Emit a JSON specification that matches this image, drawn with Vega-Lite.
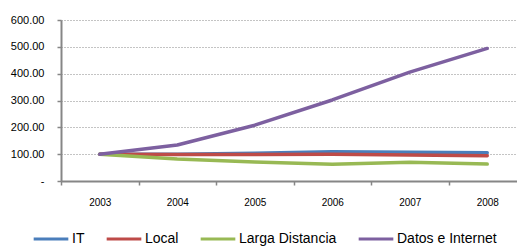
{
  "$schema": "https://vega.github.io/schema/vega-lite/v6.json",
  "autosize": "none",
  "padding": {"left": 61, "top": 20, "right": 0, "bottom": 71},
  "width": 465,
  "height": 161,
  "background": "white",
  "config": {"view": {"stroke": null}, "font": "Liberation Sans"},
  "data": {"values": [
    {"year": "2003", "serie": "IT", "v": 100},
    {"year": "2004", "serie": "IT", "v": 100},
    {"year": "2005", "serie": "IT", "v": 103},
    {"year": "2006", "serie": "IT", "v": 109},
    {"year": "2007", "serie": "IT", "v": 107},
    {"year": "2008", "serie": "IT", "v": 105},
    {"year": "2003", "serie": "Local", "v": 100},
    {"year": "2004", "serie": "Local", "v": 99},
    {"year": "2005", "serie": "Local", "v": 99},
    {"year": "2006", "serie": "Local", "v": 100},
    {"year": "2007", "serie": "Local", "v": 97},
    {"year": "2008", "serie": "Local", "v": 94},
    {"year": "2003", "serie": "Larga Distancia", "v": 100},
    {"year": "2004", "serie": "Larga Distancia", "v": 82},
    {"year": "2005", "serie": "Larga Distancia", "v": 71},
    {"year": "2006", "serie": "Larga Distancia", "v": 62},
    {"year": "2007", "serie": "Larga Distancia", "v": 70},
    {"year": "2008", "serie": "Larga Distancia", "v": 63},
    {"year": "2003", "serie": "Datos e Internet", "v": 100},
    {"year": "2004", "serie": "Datos e Internet", "v": 134},
    {"year": "2005", "serie": "Datos e Internet", "v": 208},
    {"year": "2006", "serie": "Datos e Internet", "v": 302},
    {"year": "2007", "serie": "Datos e Internet", "v": 406},
    {"year": "2008", "serie": "Datos e Internet", "v": 494}
  ]},
  "mark": {"type": "line", "strokeWidth": 3.5, "strokeCap": "round", "strokeJoin": "round"},
  "encoding": {
    "x": {
      "field": "year", "type": "ordinal",
      "scale": {"type": "band", "paddingInner": 0, "paddingOuter": 0},
      "axis": {
        "title": null, "labelAngle": 0, "tickBand": "extent", "grid": false,
        "domainColor": "#868686", "domainWidth": 2, "tickColor": "#868686", "tickWidth": 1.5, "tickSize": 4,
        "labelPadding": 12, "labelFontSize": 10, "labelColor": "#000"
      }
    },
    "y": {
      "field": "v", "type": "quantitative",
      "scale": {"domain": [0, 600], "nice": false},
      "axis": {
        "title": null, "values": [0, 100, 200, 300, 400, 500, 600],
        "labelExpr": "datum.value == 0 ? '-' : format(datum.value, '.2f')",
        "domainColor": "#868686", "domainWidth": 2, "tickColor": "#868686", "tickWidth": 1.5, "tickSize": 4,
        "gridColor": "#888888", "gridDash": [1, 2], "gridWidth": 1,
        "labelPadding": 13, "labelFontSize": 11, "labelColor": "#000"
      }
    },
    "color": {
      "field": "serie", "type": "nominal",
      "sort": ["IT", "Local", "Larga Distancia", "Datos e Internet"],
      "scale": {"domain": ["IT", "Local", "Larga Distancia", "Datos e Internet"], "range": ["#4A7EBB", "#BE4B48", "#98B954", "#7D60A0"]},
      "legend": {
        "title": null, "orient": "none", "direction": "horizontal",
        "legendX": -29, "legendY": 200,
        "symbolType": "stroke", "symbolSize": 1200, "symbolStrokeWidth": 3,
        "labelFontSize": 14, "labelColor": "#000", "labelOffset": 2, "columnPadding": 15
      }
    }
  }
}
